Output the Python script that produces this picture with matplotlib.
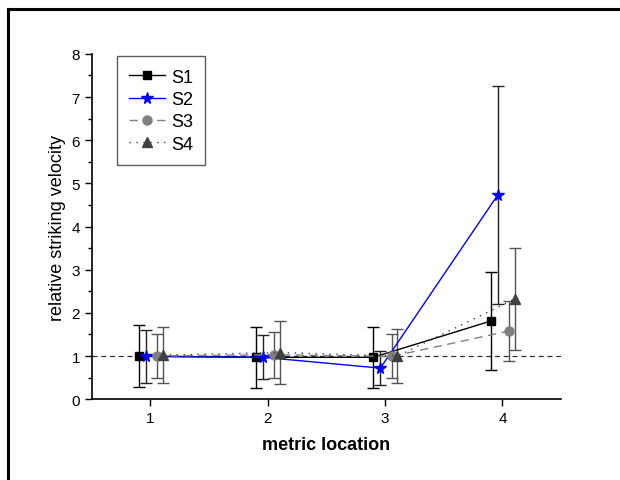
import matplotlib
matplotlib.use("Agg")
import matplotlib.pyplot as plt
from matplotlib.lines import Line2D
import numpy as np

plt.rcParams['font.family'] = ['Liberation Sans', 'DejaVu Sans']

locations = [1, 2, 3, 4]
offsets = {"S1": -0.1, "S2": -0.04, "S3": 0.055, "S4": 0.105}

s1_mean = [1.00, 0.97, 0.97, 1.81]
s1_err = [0.71, 0.70, 0.70, 1.13]
s2_mean = [0.99, 0.97, 0.72, 4.73]
s2_err = [0.61, 0.51, 0.39, 2.52]
s3_mean = [1.00, 1.03, 0.99, 1.58]
s3_err = [0.52, 0.53, 0.51, 0.70]
s4_mean = [1.02, 1.08, 1.00, 2.32]
s4_err = [0.65, 0.72, 0.62, 1.18]

fig = plt.figure(figsize=(6.2, 4.81), dpi=100)
ax = fig.add_axes([0.148, 0.168, 0.757, 0.718])

# reference level
ax.axhline(1.0, color="#333333", lw=0.9, ls=(0, (4, 3)), zorder=1)

styles = [
    ("S1", s1_mean, s1_err, dict(color="black", ls="-", marker="s", ms=6, mfc="black", mec="black"), "black"),
    ("S2", s2_mean, s2_err, dict(color="#0000ff", ls="-", marker="*", ms=8.5, mfc="#0000ff", mec="#0000ff"), "#222222"),
    ("S3", s3_mean, s3_err, dict(color="#808080", ls=(0, (6, 4)), marker="o", ms=6.5, mfc="#808080", mec="#808080"), "#555555"),
    ("S4", s4_mean, s4_err, dict(color="#404040", ls=(0, (1, 4)), marker="^", ms=7.5, mfc="#404040", mec="#404040"), "#555555"),
]

for name, mean, err, kw, ecol in styles:
    x = np.array(locations) + offsets[name]
    ax.errorbar(x, mean, yerr=err, fmt="none", ecolor=ecol, elinewidth=1.0,
                capsize=4, capthick=1.0, zorder=2)
    ax.plot(x, mean, lw=1.0, label=name, zorder=3, **kw)

ax.set_xlim(0.5, 4.5)
ax.set_ylim(0, 8)
ax.set_xticks(locations)
ax.set_yticks(range(0, 9))
ax.set_yticks(np.arange(0.5, 8, 1.0), minor=True)
ax.tick_params(axis="both", direction="out", labelsize=11, length=5, width=1)
ax.tick_params(axis="y", which="minor", direction="out", length=3, width=1)
for side in ("top", "right"):
    ax.spines[side].set_visible(False)
for side in ("left", "bottom"):
    ax.spines[side].set_linewidth(1.2)

ax.set_ylabel("relative striking velocity", fontsize=13)
ax.set_xlabel("metric location", fontsize=13, fontweight="bold", labelpad=8)

leg = ax.legend(loc="upper left", bbox_to_anchor=(0.053, 0.994), borderaxespad=0,
                fontsize=13, frameon=True, fancybox=False, handlelength=2.0,
                handletextpad=0.3, borderpad=0.7, labelspacing=0.3)
leg.get_frame().set_edgecolor("#333333")
leg.get_frame().set_linewidth(1.0)

# outer border on top and left
fig.add_artist(Line2D([0.013, 1.0], [0.979, 0.979], color="black", lw=2.2, transform=fig.transFigure))
fig.add_artist(Line2D([0.013, 0.013], [0.0, 0.979], color="black", lw=2.2, transform=fig.transFigure))

fig.savefig("out.png", dpi=100)
